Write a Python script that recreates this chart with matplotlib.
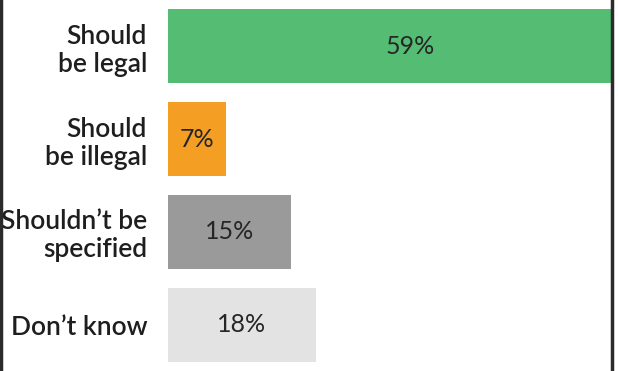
import matplotlib
matplotlib.use("Agg")
import matplotlib.pyplot as plt
from matplotlib.lines import Line2D

labels = ["Should\nbe legal", "Should\nbe illegal", "Shouldn\u2019t be\nspecified", "Don\u2019t know"]
values = [59, 7, 15, 18]
colors = ["#55bd73", "#f59e24", "#9a9a9a", "#e3e3e3"]

plt.rcParams['font.family'] = ['Lato', 'DejaVu Sans']

fig = plt.figure(figsize=(6.18, 3.71), dpi=100)
ax = fig.add_axes([168/618, 0, (612-168)/618, 1])

pos = list(range(len(values)))
ax.barh(pos, values, height=0.8, color=colors)
ax.set_ylim(3.5, -0.5)
ax.set_xlim(0, 54)

for p, v in zip(pos, values):
	ax.text(v/2, p, f"{v}%", ha="center", va="center", fontsize=18, color="#262626")

ax.set_yticks(pos)
ax.set_yticklabels(labels, fontsize=19, fontweight="semibold", color="#1e1e1e", linespacing=1.15)
ax.tick_params(axis="y", length=0, pad=15)
ax.set_xticks([])

for s in ["top", "bottom", "left"]:
	ax.spines[s].set_visible(False)
ax.spines["right"].set_color("#2b2b2b")
ax.spines["right"].set_linewidth(2.5)

# left border of the panel
fig.add_artist(Line2D([1.5/618, 1.5/618], [0, 1], color="#2b2b2b", lw=2.5))

fig.savefig("out.png", dpi=100)
